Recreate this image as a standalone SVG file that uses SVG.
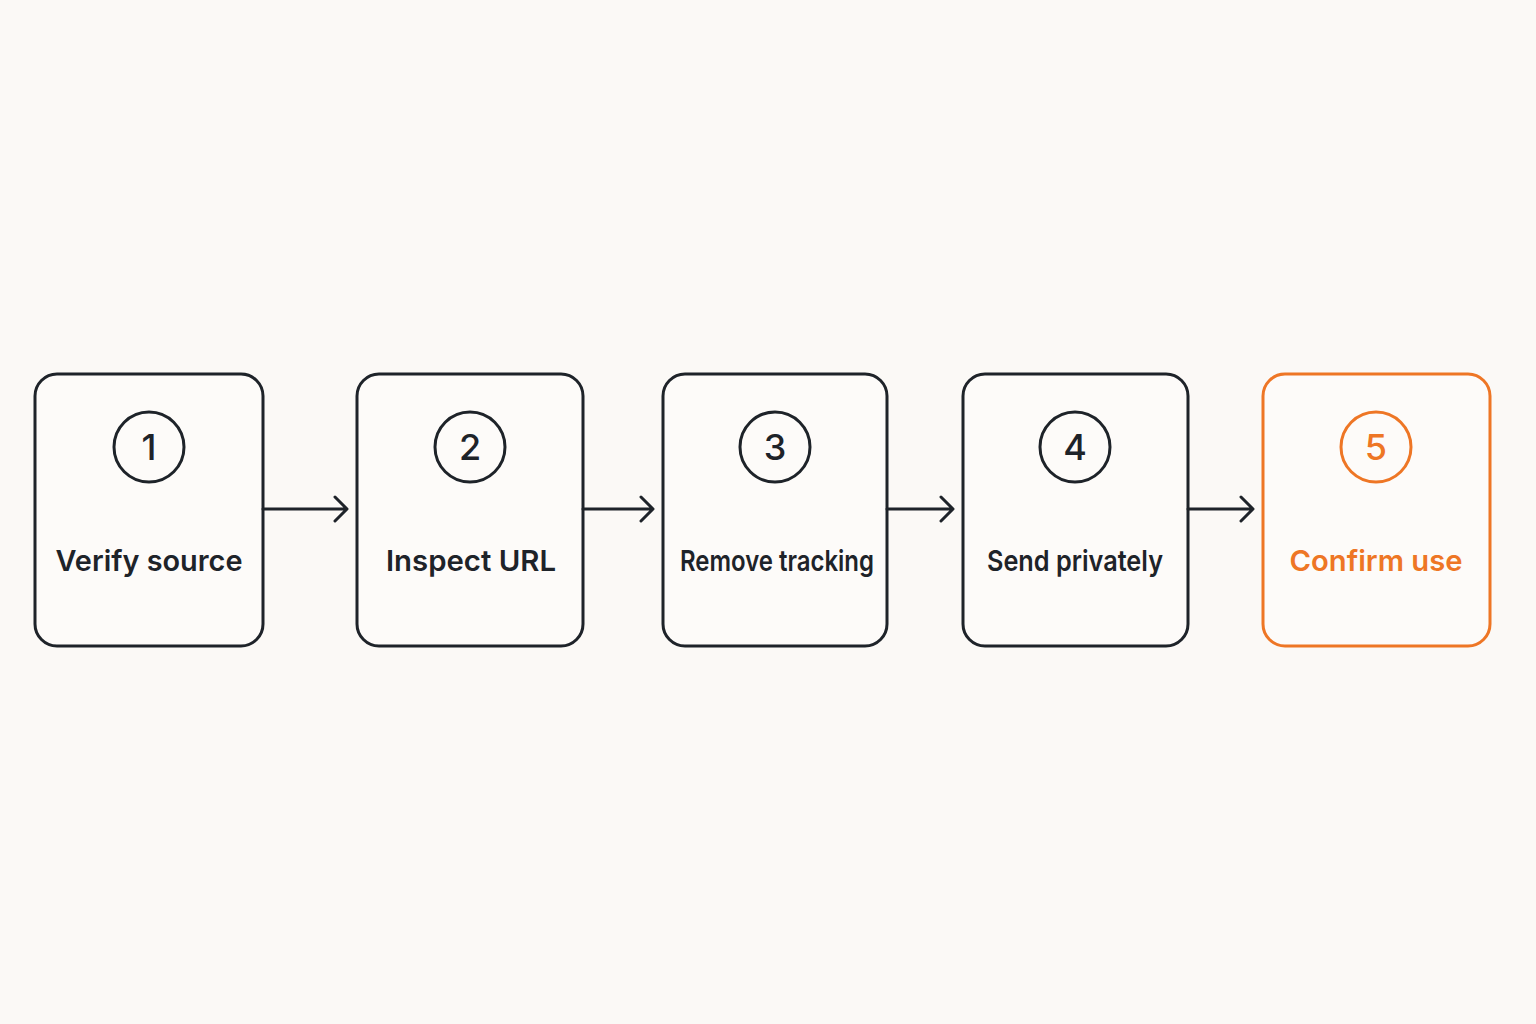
<svg xmlns="http://www.w3.org/2000/svg" width="1536" height="1024" viewBox="0 0 1536 1024">
<style>
.box{fill:#fdfbf9;stroke:#1e2329;stroke-width:3}
.num{font-family:Inter,"Liberation Sans",sans-serif;font-size:36px;font-weight:500;fill:#1e2329;text-anchor:middle}
.lbl{font-family:Inter,"Liberation Sans",sans-serif;font-size:29px;font-weight:600;fill:#1e2329;text-anchor:middle}
.or .box{stroke:#ee7625}
.or .num,.or .lbl{fill:#ee7625}
.c{fill:none;stroke:#1e2329;stroke-width:3}
.or .c{stroke:#ee7625}
.ar{fill:none;stroke:#1e2329;stroke-width:3;stroke-linecap:round;stroke-linejoin:round}
</style>
<rect width="1536" height="1024" fill="#fbf9f6"/>
<g id="n1"><rect class="box" x="35" y="374" width="228" height="272" rx="22"/><circle class="c" cx="149" cy="447" r="35"/><text class="num" x="149" y="460">1</text><text class="lbl" x="149" y="571" textLength="187" lengthAdjust="spacingAndGlyphs">Verify source</text></g>
<g id="n2"><rect class="box" x="357" y="374" width="226" height="272" rx="22"/><circle class="c" cx="470" cy="447" r="35"/><text class="num" x="470" y="460">2</text><text class="lbl" x="471" y="571" textLength="170" lengthAdjust="spacingAndGlyphs">Inspect URL</text></g>
<g id="n3"><rect class="box" x="663" y="374" width="224" height="272" rx="22"/><circle class="c" cx="775" cy="447" r="35"/><text class="num" x="775" y="460">3</text><text class="lbl" x="777" y="571" textLength="194" lengthAdjust="spacingAndGlyphs">Remove tracking</text></g>
<g id="n4"><rect class="box" x="963" y="374" width="225" height="272" rx="22"/><circle class="c" cx="1075" cy="447" r="35"/><text class="num" x="1075" y="460">4</text><text class="lbl" x="1075" y="571" textLength="176" lengthAdjust="spacingAndGlyphs">Send privately</text></g>
<g id="n5" class="or"><rect class="box" x="1263" y="374" width="227" height="272" rx="22"/><circle class="c" cx="1376" cy="447" r="35"/><text class="num" x="1376" y="460">5</text><text class="lbl" x="1376" y="571" textLength="173" lengthAdjust="spacingAndGlyphs">Confirm use</text></g>
<g id="connectors" class="ar">
<path d="M263 509H346M335 497L347 509L335 521"/>
<path d="M583 509H652M641 497L653 509L641 521"/>
<path d="M887 509H952M941 497L953 509L941 521"/>
<path d="M1188 509H1252M1241 497L1253 509L1241 521"/>
</g>
</svg>
